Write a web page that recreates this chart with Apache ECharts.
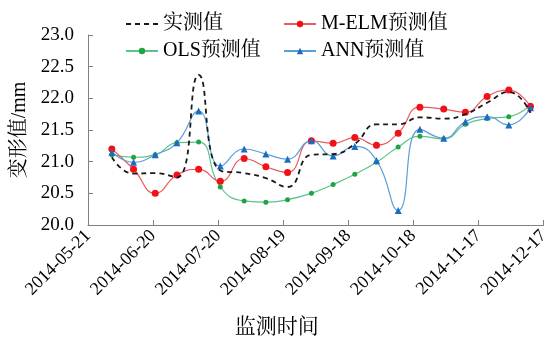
<!DOCTYPE html>
<html>
<head>
<meta charset="utf-8">
<script src="https://cdn.jsdelivr.net/npm/echarts@6/dist/echarts.min.js"></script>
<style>html,body{margin:0;padding:0;background:#fff}#c{width:552px;height:343px}</style>
</head>
<body>
<div id="c"></div>
<script>
var dates = ['2014-06-01','2014-06-11','2014-06-21','2014-07-01','2014-07-11','2014-07-21','2014-08-01','2014-08-11','2014-08-21','2014-09-01','2014-09-11','2014-09-21','2014-10-01','2014-10-11','2014-10-21','2014-11-01','2014-11-11','2014-11-21','2014-12-01','2014-12-11'];
var measured = [21.07,20.81,20.82,20.75,22.37,20.86,20.82,20.74,20.60,21.11,21.12,21.28,21.59,21.59,21.70,21.68,21.75,21.93,22.10,21.77];
var melm = [21.20,20.88,20.50,20.79,20.88,20.69,21.05,20.92,20.83,21.33,21.29,21.38,21.26,21.45,21.86,21.83,21.78,22.03,22.13,21.87];
var ols = [21.11,21.07,21.11,21.30,21.31,20.60,20.38,20.36,20.40,20.50,20.64,20.80,20.99,21.23,21.40,21.36,21.59,21.68,21.71,21.89];
var ann = [21.15,20.99,21.11,21.30,21.80,20.93,21.20,21.12,21.04,21.33,21.09,21.24,21.02,20.23,21.51,21.37,21.63,21.71,21.58,21.85];
var startDate = '2014-05-21';
var tickDays = 30;

var DAY = 86400000;
function parse(s){var p=s.split('-');return Date.UTC(+p[0],+p[1]-1,+p[2]);}
var t0 = parse(startDate);
function off(s){return (parse(s)-t0)/DAY;}
function pad(n){return (n<10?'0':'')+n;}
function lab(v){var d=new Date(t0+v*DAY);return d.getUTCFullYear()+'-'+pad(d.getUTCMonth()+1)+'-'+pad(d.getUTCDate());}
function pts(arr){return arr.map(function(v,i){return [off(dates[i]),v];});}

var FF = "'Liberation Serif','Times New Roman','Noto Serif CJK SC','Noto Sans CJK SC',serif";
var chart = echarts.init(document.getElementById('c'));
chart.setOption({
  animation:false,
  textStyle:{fontFamily:FF,color:'#000'},
  grid:{left:88,right:5,top:35,bottom:116.5,containLabel:false},
  legend:[
    {data:[{name:'实测值',itemStyle:{opacity:0}},'OLS预测值'],orient:'vertical',left:120,top:9,itemWidth:32,itemHeight:8,itemGap:7,
     textStyle:{fontFamily:FF,fontSize:20,color:'#000'}},
    {data:['M-ELM预测值','ANN预测值'],orient:'vertical',left:278,top:9,itemWidth:32,itemHeight:8,itemGap:7,
     textStyle:{fontFamily:FF,fontSize:20,color:'#000'}}
  ],
  xAxis:{type:'value',min:0,max:tickDays*7,interval:tickDays,
    axisLine:{lineStyle:{color:'#808080',width:1}},
    axisTick:{inside:true,length:5,lineStyle:{color:'#808080'}},
    splitLine:{show:false},
    axisLabel:{rotate:45,fontSize:18,color:'#000',fontFamily:FF,margin:8,formatter:lab},
    name:'监测时间',nameLocation:'middle',nameGap:92,
    nameTextStyle:{fontSize:21,color:'#000',fontFamily:FF,padding:[0,78,0,0]}
  },
  yAxis:{type:'value',min:20,max:23,interval:0.5,
    axisLine:{show:true,lineStyle:{color:'#808080',width:1}},
    axisTick:{show:true,inside:true,length:5,lineStyle:{color:'#808080'}},
    splitLine:{show:false},
    axisLabel:{fontSize:19,color:'#000',fontFamily:FF,margin:14,formatter:function(v){return v.toFixed(1);}},
    name:'变形值/mm',nameLocation:'middle',nameGap:57,
    nameTextStyle:{fontSize:20,color:'#000',fontFamily:FF}
  },
  series:[
    {name:'实测值',type:'line',smooth:0.5,symbol:'none',data:pts(measured),
     lineStyle:{color:'#1a1a1a',width:1.8,type:[5,4]},itemStyle:{color:'#1a1a1a'},z:5},
    {name:'M-ELM预测值',type:'line',smooth:0.5,symbol:'circle',symbolSize:7,data:pts(melm),
     lineStyle:{color:'#ea5a5e',width:1.2},itemStyle:{color:'#f01218'},z:4},
    {name:'OLS预测值',type:'line',smooth:0.5,symbol:'circle',symbolSize:5,data:pts(ols),
     lineStyle:{color:'#5cc28a',width:1.2},itemStyle:{color:'#1fa443'},z:3},
    {name:'ANN预测值',type:'line',smooth:0.5,symbol:'triangle',symbolSize:7,data:pts(ann),
     lineStyle:{color:'#5a9fd6',width:1.2},itemStyle:{color:'#1c6cbf'},z:4}
  ]
});
</script>
</body>
</html>
